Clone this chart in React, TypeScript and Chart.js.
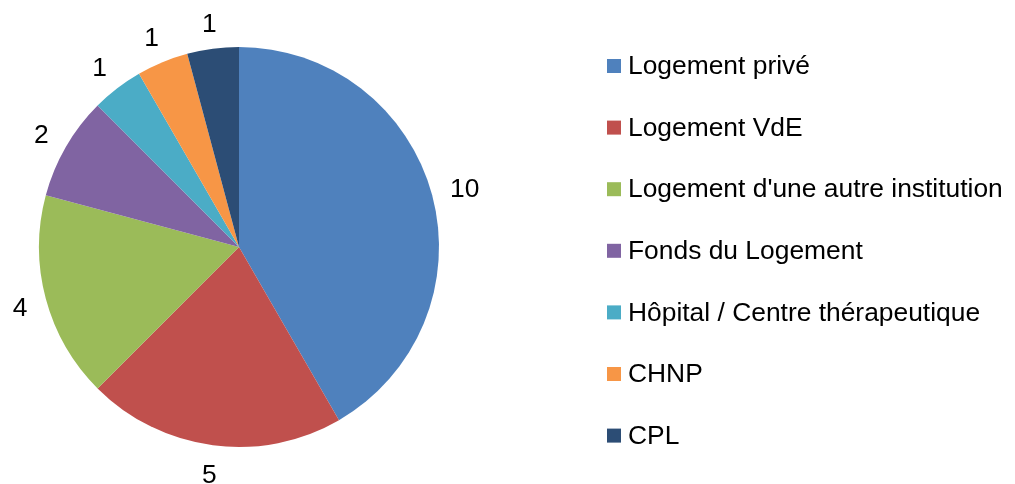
import React, { useEffect, useRef } from "react";
import { Chart, registerables } from "chart.js";

Chart.register(...registerables);

const categories = [
  "Logement privé",
  "Logement VdE",
  "Logement d'une autre institution",
  "Fonds du Logement",
  "Hôpital / Centre thérapeutique",
  "CHNP",
  "CPL",
];
const values = [10, 5, 4, 2, 1, 1, 1];
const colors = ["#4F81BD", "#C0504D", "#9BBB59", "#8064A2", "#4BACC6", "#F79646", "#2C4D75"];

const FONT = "26.4px 'Liberation Sans', Arial, sans-serif";

const labelsPlugin = {
  id: "outsideLabels",
  afterDatasetsDraw(chart: any) {
    const ctx = chart.ctx;
    const meta = chart.getDatasetMeta(0);
    ctx.save();
    ctx.font = FONT;
    ctx.fillStyle = "#000";
    ctx.textAlign = "center";
    ctx.textBaseline = "middle";
    meta.data.forEach((arc: any, i: number) => {
      const { x, y, startAngle, endAngle, outerRadius } = arc.getProps(
        ["x", "y", "startAngle", "endAngle", "outerRadius"],
        true
      );
      const txt = String(chart.data.datasets[0].data[i]);
      const w = ctx.measureText(txt).width;
      const mid = (startAngle + endAngle) / 2;
      const dx = Math.cos(mid);
      const dy = Math.sin(mid);
      const d = outerRadius + 17 + (w / 2) * Math.abs(dx) + 9.5 * Math.abs(dy);
      ctx.fillText(txt, x + dx * d, y + dy * d + 3);
    });
    ctx.restore();
  },
};

const legendPlugin = {
  id: "customLegend",
  afterDraw(chart: any) {
    const ctx = chart.ctx;
    ctx.save();
    ctx.font = FONT;
    ctx.textAlign = "left";
    ctx.textBaseline = "middle";
    const labels = chart.data.labels as string[];
    const bg = chart.data.datasets[0].backgroundColor as string[];
    labels.forEach((lab, i) => {
      const cy = 66 + i * 61.6;
      ctx.fillStyle = bg[i];
      ctx.fillRect(607, cy - 7, 14, 14);
      ctx.fillStyle = "#000";
      ctx.fillText(lab, 628, cy + 1);
    });
    ctx.restore();
  },
};

export default function App() {
  const ref = useRef<HTMLCanvasElement>(null);
  useEffect(() => {
    if (!ref.current) return;
    const chart = new Chart(ref.current, {
      type: "pie",
      data: {
        labels: categories,
        datasets: [
          {
            data: values,
            backgroundColor: colors,
            borderWidth: 0,
          },
        ],
      },
      options: {
        animation: false,
        responsive: false,
        maintainAspectRatio: false,
        layout: { padding: { left: 39, top: 47, right: 576, bottom: 37 } },
        plugins: { legend: { display: false }, tooltip: { enabled: false } },
      },
      plugins: [labelsPlugin, legendPlugin],
    });
    return () => chart.destroy();
  }, []);
  return (
    <div style={{ position: "fixed", left: 0, top: 0, width: 1015, height: 484, background: "#fff" }}>
      <canvas ref={ref} width={1015} height={484} style={{ width: 1015, height: 484 }} />
    </div>
  );
}
